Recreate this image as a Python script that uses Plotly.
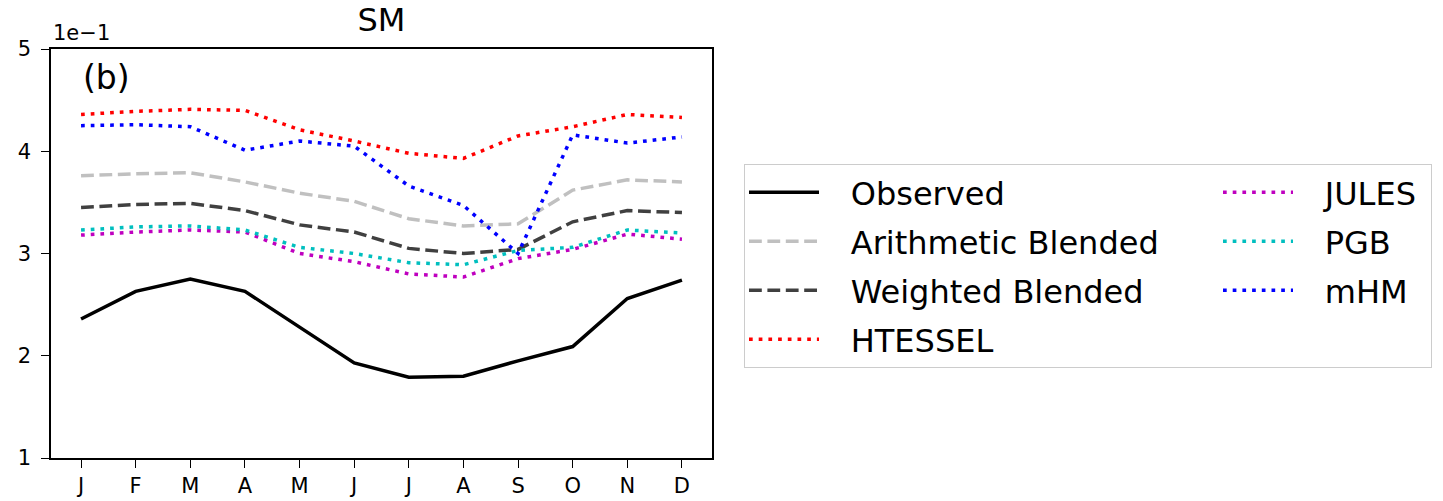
import plotly.graph_objects as go

# ---------------- data ----------------
month_index = list(range(12))
month_labels = ["J", "F", "M", "A", "M", "J", "J", "A", "S", "O", "N", "D"]
y_tick_vals = [0.1, 0.2, 0.3, 0.4, 0.5]
y_tick_text = ["1", "2", "3", "4", "5"]

observed = [0.236, 0.263, 0.275, 0.263, 0.228, 0.193, 0.179, 0.180, 0.195, 0.209, 0.256, 0.274]
arithmetic = [0.376, 0.378, 0.379, 0.370, 0.359, 0.351, 0.334, 0.327, 0.329, 0.362, 0.372, 0.370]
weighted = [0.345, 0.348, 0.349, 0.342, 0.328, 0.321, 0.305, 0.300, 0.304, 0.331, 0.342, 0.340]
htessel = [0.436, 0.439, 0.441, 0.440, 0.421, 0.410, 0.398, 0.393, 0.415, 0.424, 0.436, 0.433]
jules = [0.318, 0.321, 0.323, 0.321, 0.300, 0.292, 0.280, 0.277, 0.295, 0.304, 0.319, 0.314]
pgb = [0.323, 0.326, 0.327, 0.323, 0.306, 0.300, 0.291, 0.289, 0.303, 0.306, 0.323, 0.320]
mhm = [0.425, 0.426, 0.424, 0.401, 0.410, 0.405, 0.366, 0.347, 0.300, 0.416, 0.408, 0.414]

series_names = ["Observed", "Arithmetic Blended", "Weighted Blended", "HTESSEL", "JULES", "PGB", "mHM"]
series_values = [observed, arithmetic, weighted, htessel, jules, pgb, mhm]

# ---------------- styles ----------------
FONT = "DejaVu Sans"
LW = 3.5
DASHED = "12.8px,5.6px"
DOTTED = "3.7px,6px"
styles = {
    "Observed": dict(color="#000000", dash="solid", rank=1, col=1),
    "Arithmetic Blended": dict(color="#c0c0c0", dash=DASHED, rank=3, col=1),
    "Weighted Blended": dict(color="#404040", dash=DASHED, rank=5, col=1),
    "HTESSEL": dict(color="#ff0000", dash=DOTTED, rank=7, col=1),
    "JULES": dict(color="#bf00bf", dash=DOTTED, rank=2, col=2),
    "PGB": dict(color="#00bfbf", dash=DOTTED, rank=4, col=2),
    "mHM": dict(color="#0000ff", dash=DOTTED, rank=6, col=2),
}
PAD = "\u00a0\u00a0\u2009"

fig = go.Figure()
for name, vals in zip(series_names, series_values):
    st = styles[name]
    fig.add_trace(go.Scatter(
        x=month_index, y=vals, mode="lines", name=PAD + name,
        line=dict(color=st["color"], width=LW, dash=st["dash"]),
        legendgroup=name, legendrank=st["rank"],
        legendwidth=389 if st["col"] == 1 else 128,
    ))

L, R, T, B = 51, 731, 49, 43
W, H = 1443, 501
plot_w = W - L - R
plot_h = H - T - B

axis_common = dict(
    showgrid=False, zeroline=False, showline=True, mirror=True,
    linecolor="black", linewidth=1.6, ticks="outside", ticklen=8,
    tickwidth=1.4, tickcolor="black",
    tickfont=dict(family=FONT, size=21, color="black"),
)

fig.update_layout(
    width=W, height=H,
    margin=dict(l=L, r=R, t=T, b=B, autoexpand=False),
    paper_bgcolor="white", plot_bgcolor="white",
    font=dict(family=FONT, color="black"),
    title=dict(text="SM", x=0.5, xref="paper", xanchor="center",
               y=1 - 20 / H, yref="container", yanchor="middle",
               font=dict(family=FONT, size=32, color="black")),
    xaxis=dict(range=[-0.55, 11.55], tickmode="array", tickvals=month_index,
               ticktext=month_labels, ticklabelstandoff=0, **axis_common),
    yaxis=dict(range=[0.1, 0.5], tickmode="array", tickvals=y_tick_vals,
               ticktext=y_tick_text, ticklabelstandoff=6, **axis_common),
    legend=dict(
        orientation="h", traceorder="grouped", tracegroupgap=4.4,
        itemwidth=70,
        x=(744 - L) / plot_w, y=(H - B - 164) / plot_h,
        xanchor="left", yanchor="top",
        bgcolor="white", bordercolor="#cccccc", borderwidth=1,
        font=dict(family=FONT, size=32, color="black"),
    ),
    showlegend=True,
    annotations=[
        dict(text="1e\u22121", x=0, y=(H - B - 33) / plot_h, xref="paper", yref="paper",
             xanchor="left", yanchor="middle", showarrow=False,
             font=dict(family=FONT, size=21, color="black")),
        dict(text="(b)", x=(106.5 - L) / plot_w, y=(H - B - 77) / plot_h,
             xref="paper", yref="paper", xanchor="center", yanchor="middle",
             showarrow=False, font=dict(family=FONT, size=33, color="black")),
    ],
)

fig.write_html("out.html")
